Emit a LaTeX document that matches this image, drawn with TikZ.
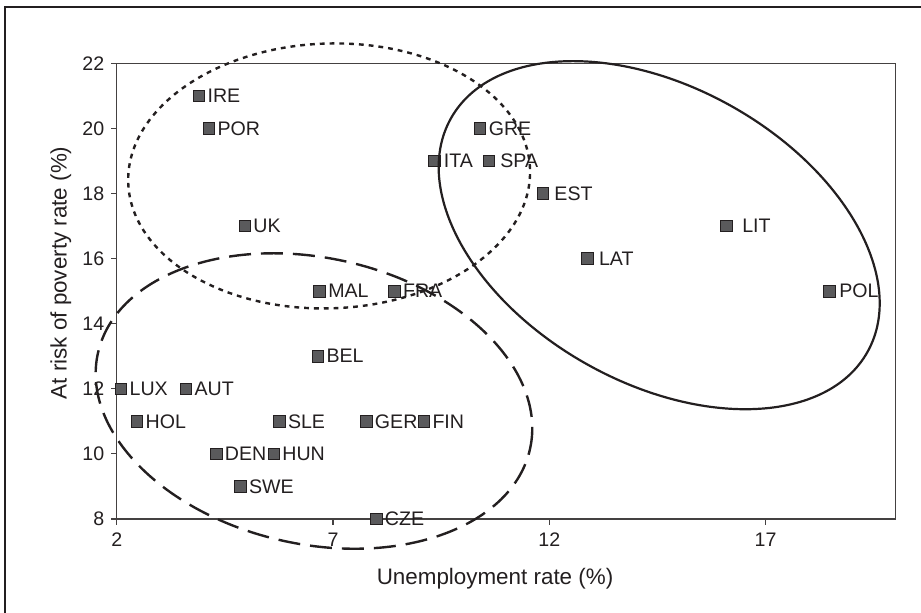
\documentclass[tikz,border=0pt]{standalone}
\usepackage{fontspec}
\setmainfont{Liberation Sans}
\usepackage{xcolor}
\usepackage{tikz}

\definecolor{inkgray}{HTML}{231F20}
\definecolor{boxgray}{HTML}{5A5A5C}

\tikzset{
  axisline/.style={draw=inkgray!85, line width=0.55pt},
  datapt/.style={draw=inkgray, fill=boxgray, line width=0.45pt, minimum size=5.8pt, inner sep=0pt},
  lbl/.style={inner sep=1pt, text=inkgray},
  ring/.style={draw=inkgray, line width=1.1pt},
  ringdot/.style={draw=inkgray, line width=1.2pt, dash pattern=on 2.4pt off 2.5pt},
  ringdash/.style={draw=inkgray, line width=1.2pt, dash pattern=on 11pt off 5pt}
}

\begin{document}
\begin{tikzpicture}[x=21.63pt, y=16.275pt, font=\fontsize{9.8}{11}\selectfont, text=inkgray]
  \useasboundingbox (-0.698,5.143) rectangle (20.592,23.945);

  % outer frame
  \draw[inkgray, line width=1.3pt] (-0.582,4) |- (21,23.73);

  % plot box and axes
  \draw[axisline] (2,8) rectangle (20,22);
  \foreach \y in {8,10,...,22}
    \draw[axisline] (2,\y) -- ++(-3pt,0) node[left, inner sep=3pt] {\y};
  \foreach \x in {2,7,12,17}
    \draw[axisline] (\x,8) -- ++(0,-3pt) node[below, inner sep=3.5pt] {\x};

  \node[anchor=base, font=\fontsize{11.2}{12}\selectfont] (xtitle) at (10.745,6.0) {Unemployment rate (\%)};
  \node[anchor=base, rotate=90, font=\fontsize{11.2}{12}\selectfont] (ytitle) at (0.844,15.56) {At risk of poverty rate (\%)};

  % countries
  \foreach \nm/\px/\py/\gap in {IRE/3.9/21/0pt, POR/4.13/20/0pt, UK/4.96/17/0pt,
      MAL/6.69/15/0pt, FRA/8.42/15/0pt, BEL/6.65/13/0pt, LUX/2.1/12/0pt,
      AUT/3.6/12/0pt, HOL/2.47/11/0pt, SLE/5.76/11/0pt, GER/7.77/11/0pt,
      FIN/9.1/11/0pt, DEN/4.3/10/0pt, HUN/5.63/10/0pt, SWE/4.86/9/0pt,
      CZE/8.0/8/0pt, GRE/10.4/20/0pt, ITA/9.34/19/0.5pt, SPA/10.6/19/1.5pt,
      EST/11.85/18/1.5pt, LAT/12.88/16/1.5pt, LIT/16.1/17/3.5pt, POL/18.48/15/0.5pt}
    \node[datapt, label={[lbl, label distance=\gap]right:\nm}] (\nm) at (\px,\py) {};

  % groups
  \coordinate (ringSolid) at (14.54,16.72);
  \coordinate (ringDot) at (6.91,18.54);
  \coordinate (ringDash) at (6.56,11.625);
  \draw[ring, rotate around={-29.3:(ringSolid)}] (ringSolid) ellipse (119.4pt and 73.95pt);
  \draw[ringdot, rotate around={2:(ringDot)}] (ringDot) ellipse (100.5pt and 66.2pt);
  \draw[ringdash, rotate around={-12.45:(ringDash)}] (ringDash) ellipse (110.65pt and 71.57pt);
\end{tikzpicture}
\end{document}
